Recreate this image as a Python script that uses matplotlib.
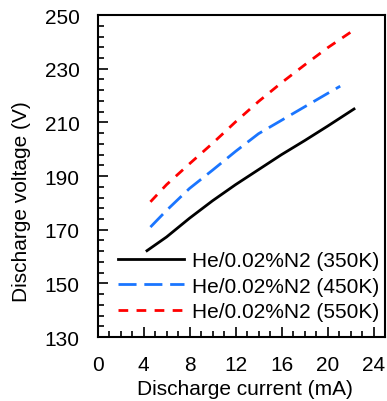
import numpy as np
import matplotlib.pyplot as plt
from matplotlib.ticker import FixedLocator

plt.rcParams['font.family'] = ['Liberation Sans', 'DejaVu Sans']

# discharge current (mA) and voltage (V)
i_350 = [4.3, 6, 8, 10, 12, 14, 16, 18, 20, 22.3]
v_350 = [162.2, 167.3, 174.3, 180.8, 186.8, 192.4, 198.0, 203.2, 208.6, 215.0]

i_450 = [4.6, 6, 8, 10, 12, 14, 16, 18, 20, 21.1]
v_450 = [171.0, 177.2, 185.4, 192.2, 199.2, 205.8, 210.8, 215.8, 220.8, 223.5]

i_550 = [4.6, 6, 8, 10, 12, 14, 16, 18, 20, 22.0]
v_550 = [180.4, 186.8, 194.6, 202.2, 210.2, 217.8, 224.8, 231.4, 237.8, 243.6]

labels = ['He/0.02%N2 (350K)', 'He/0.02%N2 (450K)', 'He/0.02%N2 (550K)']

fig = plt.figure(figsize=(3.87, 4.02), dpi=100)
ax = fig.add_axes([0.252, 0.159, 0.743, 0.801])

ax.plot(i_350, v_350, color='black', lw=2, label=labels[0])
ax.plot(i_450, v_450, color='#1a75ff', lw=2, dashes=(6.5, 2.8), label=labels[1])
ax.plot(i_550, v_550, color='#ff0000', lw=2, dashes=(3.5, 3), label=labels[2])

ax.set_xlim(0, 25)
ax.set_ylim(130, 250)
ax.set_xticks(np.arange(0, 25, 4))
ax.xaxis.set_minor_locator(FixedLocator(np.arange(0, 25.1, 1)))
ax.set_yticks(np.arange(130, 251, 20))
ax.yaxis.set_minor_locator(FixedLocator(np.arange(130, 251, 4)))
ax.tick_params(which='both', direction='in', labelsize=15, width=1.2)
ax.tick_params(which='major', length=7, pad=13)
ax.tick_params(which='minor', length=4)
for s in ax.spines.values():
    s.set_linewidth(1.5)

ax.set_xlabel('Discharge current (mA)', fontsize=15, va='center')
ax.xaxis.set_label_coords(0.513, -0.161)
ax.set_ylabel('Discharge voltage (V)', fontsize=15, va='center')
ax.yaxis.set_label_coords(-0.263, 0.425)

ax.legend(loc='upper left', bbox_to_anchor=(117.7 / 387, 1 - 252 / 402),
          bbox_transform=fig.transFigure, frameon=False, fontsize=15,
          handlelength=3.2, handletextpad=0.37, labelspacing=0.32,
          borderpad=0, borderaxespad=0)

fig.savefig('out.png', dpi=100)
